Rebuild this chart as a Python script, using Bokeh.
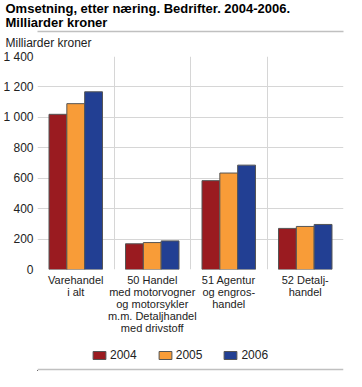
import numpy as np
from bokeh.plotting import figure
from bokeh.layouts import column
from bokeh.models import (Range1d, FixedTicker, Legend, LegendItem, Title,
                          LinearAxis, Span, ColumnDataSource)
from bokeh.embed import file_html
from bokeh.resources import INLINE

categories = ["Varehandel\ni alt",
              "50 Handel\nmed motorvogner\nog motorsykler\nm.m. Detaljhandel\nmed drivstoff",
              "51 Agentur\nog engros-\nhandel",
              "52 Detalj-\nhandel"]
years = ["2004", "2005", "2006"]
v2004 = [1020, 169, 584, 270]
v2005 = [1090, 177, 634, 283]
v2006 = [1168, 188, 686, 296]
y_ticks = [0, 200, 400, 600, 800, 1000, 1200, 1400]
y_tick_labels = ["0", "200", "400", "600", "800", "1 000", "1 200", "1 400"]
title_text = "Omsetning, etter næring. Bedrifter. 2004-2006.\nMilliarder kroner"
y_title = "Milliarder kroner"

colors = ["#9A1B20", "#F89C38", "#223F93"]
FONT = "Liberation Sans"
W = 346
H_MAIN, H_BOT = 336, 35

# ---------------- main chart
p = figure(width=W, height=H_MAIN, output_backend="svg", toolbar_location=None,
           x_range=Range1d(0, len(categories)), y_range=Range1d(0, 1400),
           min_border_left=35, min_border_right=3, min_border_top=0,
           min_border_bottom=64)
p.outline_line_color = None
p.background_fill_color = "white"

x0 = np.arange(len(categories)) + 0.5
offsets = [-0.233, 0.0, 0.233]
series = [v2004, v2005, v2006]
for yr, vals, off, col in zip(years, series, offsets, colors):
    src = ColumnDataSource(dict(x=x0 + off, top=vals))
    p.vbar(x="x", top="top", bottom=0, width=0.233, source=src,
           fill_color=col, line_color="#555555", line_width=1)

p.xaxis.ticker = FixedTicker(ticks=list(x0))
p.xaxis.major_label_overrides = {float(x): c for x, c in zip(x0, categories)}
p.yaxis.ticker = FixedTicker(ticks=y_ticks)
p.yaxis.major_label_overrides = {t: l for t, l in zip(y_ticks, y_tick_labels)}
for ax in (p.xaxis[0], p.yaxis[0]):
    ax.axis_line_color = None
    ax.major_tick_line_color = None
    ax.minor_tick_line_color = None
    ax.major_tick_out = 0
    ax.major_tick_in = 0
    ax.major_label_text_font = FONT
    ax.major_label_text_color = "#222222"
p.yaxis.major_label_text_font_size = "12px"
p.yaxis.major_label_standoff = 4
p.xaxis.major_label_text_font_size = "11px"
p.xaxis.major_label_text_line_height = 1.0
p.xaxis.major_label_standoff = 4

p.xgrid.ticker = FixedTicker(ticks=list(range(len(categories) + 1)))
p.ygrid.ticker = FixedTicker(ticks=y_ticks)
for g in (p.xgrid[0], p.ygrid[0]):
    g.grid_line_color = "#d6d6d6"
    g.grid_line_width = 1

# above panels (nearest to the frame first)
p.add_layout(Title(text=y_title, text_font=FONT, text_font_size="12px",
                   text_font_style="normal", text_color="#222222",
                   align="left", offset=-32, standoff=9,
                   vertical_align="top"), "above")
sep_top = LinearAxis(ticker=FixedTicker(ticks=[]), axis_line_color="#c0c0c0",
                     axis_line_width=1.5, major_tick_out=8, major_tick_in=0,
                     major_label_standoff=0, minor_tick_out=0, minor_tick_in=0)
p.add_layout(sep_top, "above")
p.add_layout(Title(text=title_text, text_font=FONT, text_font_size="13px",
                   text_font_style="bold", text_color="#000000",
                   text_line_height=0.96, align="left", offset=-32,
                   standoff=0, vertical_align="top"), "above")

# ---------------- footer: legend and bottom rule
bot = figure(width=W, height=H_BOT, output_backend="svg", toolbar_location=None,
             x_axis_type=None, y_axis_type=None,
             x_range=Range1d(0, W), y_range=Range1d(0, H_BOT), min_border=0)
bot.outline_line_color = None
bot.background_fill_color = "white"
items = []
for yr, col in zip(years, colors):
    # off-range placeholder renderer so the legend can draw its swatch
    r = bot.vbar(x=[-1000], top=[1], bottom=0, width=1, fill_color=col,
                 line_color="#555555", line_width=1)
    items.append(LegendItem(label=yr, renderers=[r]))
legend = Legend(items=items, orientation="horizontal", location=(54, 9.5),
                glyph_width=16, glyph_height=10, label_height=10, label_width=20,
                label_standoff=3, spacing=20, padding=0, margin=0,
                border_line_color=None, background_fill_alpha=0,
                label_text_font=FONT, label_text_font_size="12px",
                label_text_color="#222222")
bot.add_layout(legend)
bot.add_layout(Span(location=2, dimension="width", line_color="#c0c0c0",
                    line_width=1.5))

layout = column(p, bot, spacing=0)
open("out.html", "w").write(file_html(layout, INLINE))
